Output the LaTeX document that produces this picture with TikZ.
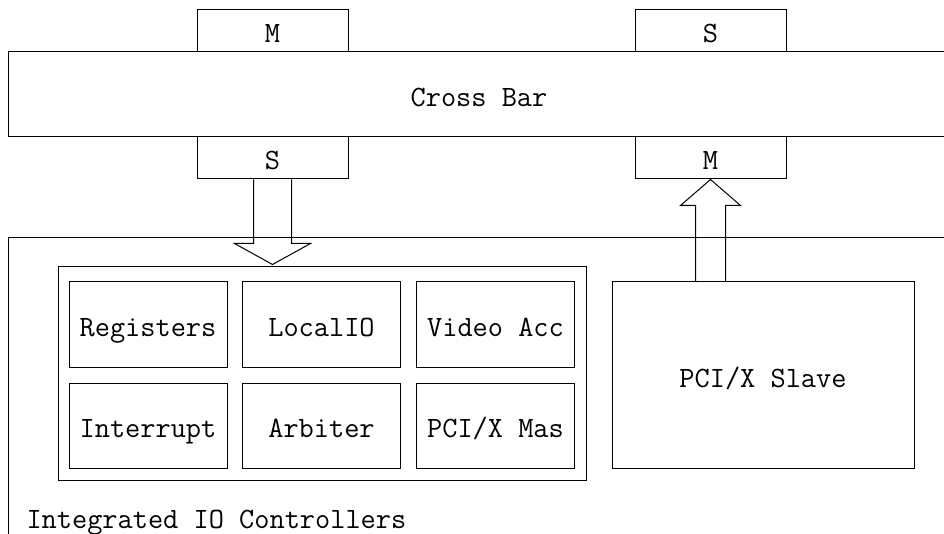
\documentclass[tikz,border=0pt]{standalone}
\usepackage{tikz}
\usetikzlibrary{calc,positioning}

\begin{document}
\begin{tikzpicture}[x=1pt, y=-1pt, line width=1pt,
		font=\fontsize{29.5}{34}\selectfont\ttfamily,
		blk/.style={draw, inner sep=0pt, minimum width=#1, text height=24pt, text depth=0pt},
		port/.style={blk=151pt, minimum height=42pt},
		cell/.style={blk=158pt, minimum height=85pt}]
		\useasboundingbox (0,0) rectangle (944,534);
		\clip (0,0) rectangle (944,534);
		
		% Cross Bar 及其端口
		\node[blk=942pt, minimum height=85pt] (xbar) at (479,94.5) {Cross Bar};
		\node[port] (mtop) at (272.5,31) {M};
		\node[port] (sbot) at (272.5,158) {S};
		\node[port] (stop) at (710.5,31) {S};
		\node[port] (mbot) at (710.5,158) {M};
		
		% IO 控制器
		\node[blk=942pt, minimum height=322pt] (ioc) at (479,399) {};
		\node[anchor=base west, inner sep=0pt] (ioclbl) at (26,528) {Integrated IO Controllers};
		\node[blk=528pt, minimum height=213pt] (grp) at (322,373.5) {};
		\foreach \nm/\x/\y/\txt in {reg/148/324.5/Registers, lio/321.5/324.5/LocalIO,
			vid/495.5/324.5/Video Acc, irq/148/425.5/Interrupt,
			arb/321.5/425.5/Arbiter, pcm/495.5/425.5/{PCI/X Mas}}
			\node[cell] (\nm) at (\x,\y) {\txt};
		\node[blk=302pt, minimum height=186pt] (slave) at (763,375) {PCI/X Slave};
		
		% 空心箭头
		\draw ($(sbot.south)+(-19,0)$) -- ++(0,64) -- ++(-19,0) -- ($(sbot.south)+(0,85)$)
			-- ($(sbot.south)+(38,64)$) -- ++(-19,0) -- ($(sbot.south)+(19,0)$);
		\coordinate (ubase) at (mbot.south |- slave.north);
		\draw ($(ubase)+(-15,0)$) -- ($(mbot.south)+(-15,26)$) -- ++(-15,0) -- (mbot.south)
			-- ($(mbot.south)+(30,26)$) -- ++(-15,0) -- ($(ubase)+(15,0)$);
	\end{tikzpicture}
\end{document}
